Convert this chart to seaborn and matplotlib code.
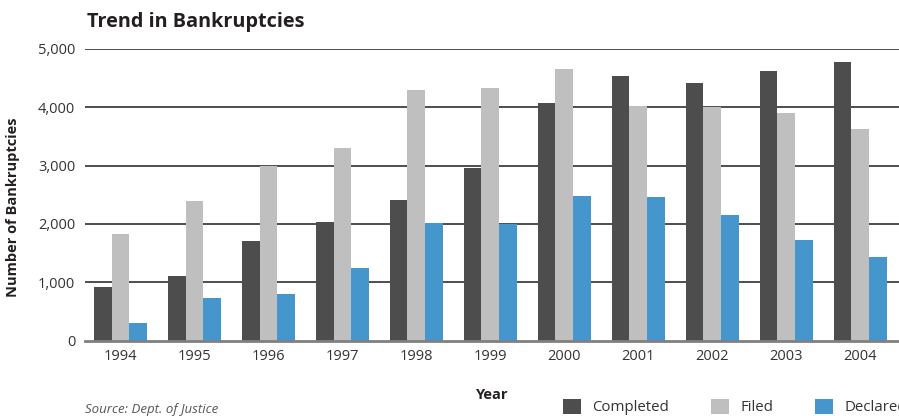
import matplotlib
matplotlib.use("Agg")
import matplotlib.pyplot as plt
import seaborn as sns
import pandas as pd
from matplotlib.patches import Patch

years = ["1994", "1995", "1996", "1997", "1998", "1999", "2000", "2001", "2002", "2003", "2004"]
completed = [920, 1100, 1710, 2040, 2410, 2960, 4080, 4530, 4420, 4630, 4770]
filed = [1830, 2400, 3000, 3300, 4300, 4330, 4650, 4030, 4000, 3900, 3630]
declared = [300, 730, 800, 1250, 2020, 2000, 2480, 2460, 2150, 1720, 1430]
series = ["Completed", "Filed", "Declared"]
colors = ["#4d4d4d", "#bfbfbf", "#4496cd"]
yticks = [0, 1000, 2000, 3000, 4000, 5000]

df = pd.DataFrame({
    "Year": years * 3,
    "Value": completed + filed + declared,
    "Series": [s for s in series for _ in years],
})

sns.set_theme(style="white")
plt.rcParams["font.family"] = ["Open Sans", "DejaVu Sans"]

W, H = 899, 416
fig = plt.figure(figsize=(W / 100, H / 100), dpi=100)
left_px, right_px, top_px, bot_px = 85, 906, 49, 340.5
ax = fig.add_axes([left_px / W, (H - bot_px) / H, (right_px - left_px) / W, (bot_px - top_px) / H])

sns.barplot(data=df, x="Year", y="Value", hue="Series", hue_order=series,
            palette=colors, width=0.72, saturation=1, legend=False, ax=ax,
            linewidth=0, edgecolor="none")

ax.set_xlim(-0.48, 10.62)
ax.set_ylim(0, 5000)
ax.set_yticks(yticks)
ax.set_yticklabels([f"{v:,}" for v in yticks])
ax.set_axisbelow(True)
for v in yticks[1:]:
    ax.axhline(v, color="#1e1e1e", lw=1.1, zorder=0)
for s in ["top", "right", "left"]:
    ax.spines[s].set_visible(False)
ax.spines["bottom"].set_color("#808080")
ax.spines["bottom"].set_linewidth(2)
ax.spines["bottom"].set_zorder(5)
ax.tick_params(axis="both", length=0, labelsize=10.5, labelcolor="#333333")
ax.tick_params(axis="y", pad=7)
ax.tick_params(axis="x", pad=6)
ax.set_xlabel("")
ax.set_ylabel("")

fig.text(87 / W, (H - 27) / H, "Trend in Bankruptcies", fontsize=14.3, fontweight="bold",
         color="#231f20", ha="left", va="baseline")
fig.text(13 / W, (H - 207) / H, "Number of Bankruptcies", fontsize=10.5, fontweight="bold",
         color="#231f20", rotation=90, ha="center", va="center")
fig.text(492 / W, (H - 395) / H, "Year", fontsize=10.5, fontweight="bold",
         color="#231f20", ha="center", va="center")
fig.text(85 / W, (H - 413) / H, "Source: Dept. of Justice", fontsize=9.5, style="italic",
         color="#555555", ha="left", va="baseline")

handles = [Patch(facecolor=c, edgecolor="none", label=s) for s, c in zip(series, colors)]
leg = fig.legend(handles=handles, ncol=3, loc="center left",
                 bbox_to_anchor=(563 / W, (H - 407) / H), frameon=False,
                 fontsize=10.8, handlelength=1.2, handleheight=1.2,
                 handletextpad=0.75, columnspacing=2.8, borderpad=0, borderaxespad=0)
for t in leg.get_texts():
    t.set_color("#333333")

fig.savefig("out.png", dpi=100)
